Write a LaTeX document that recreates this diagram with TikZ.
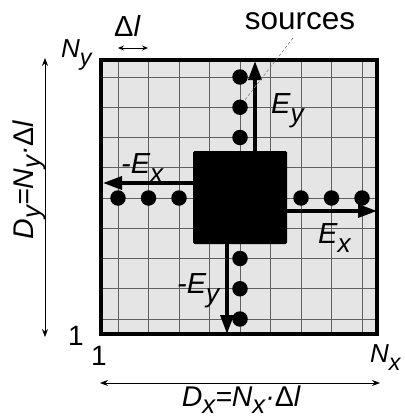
\documentclass[tikz,border=0pt]{standalone}
\usepackage{fontspec}
\setmainfont{Liberation Sans}
\usetikzlibrary{arrows.meta}
\newcommand{\sbx}[1]{\raisebox{-0.33em}{\scalebox{0.9}{#1}}}
\newcommand{\sbd}[1]{\raisebox{-0.26em}{\scalebox{0.9}{#1}}}
\definecolor{cellfill}{HTML}{E5E5E5}
\definecolor{gridcol}{HTML}{606060}
\begin{document}
\begin{tikzpicture}[x=1pt,y=-1pt,
  lab/.style={inner sep=0pt, anchor=base west, font=\fontsize{29}{29}\selectfont\itshape},
  dimlab/.style={inner sep=0pt, font=\fontsize{28.5}{28.5}\selectfont\itshape},
  fld/.style={line width=3.5pt, -{Triangle[length=19pt,width=13pt]}},
  dimarr/.style={line width=0.8pt, {Stealth[length=8pt,width=6pt]}-{Stealth[length=8pt,width=6pt]}},
  src/.style={circle, fill=black, minimum size=15.5pt, inner sep=0pt},
  gridln/.style={line width=0.9pt, gridcol},
]
\useasboundingbox (0,0) rectangle (404,420);
% domain
\fill[cellfill] (101,60) rectangle (377,334);
\foreach \i in {0,...,8} \draw[gridln] ({118+30.5*\i},60) -- ({118+30.5*\i},334);
\foreach \j in {0,...,8} \draw[gridln] (101,{77+30.25*\j}) -- (377,{77+30.25*\j});
\node (dom) [draw, line width=4pt, minimum width=276pt, minimum height=274pt, inner sep=0pt] at (239,197) {};
% block
\node (blk) [fill=black, rounded corners=1.5pt, minimum width=94pt, minimum height=93pt, inner sep=0pt] at (240,197.5) {};
% sources
\foreach \y [count=\k] in {77,107.25,137.5} \node (su\k) [src] at (240,\y) {};
\foreach \y [count=\k] in {258.5,288.75,319} \node (sd\k) [src] at (240,\y) {};
\foreach \x [count=\k] in {118,148.5,179} \node (sl\k) [src] at (\x,198) {};
\foreach \x [count=\k] in {301,331.5,362} \node (sr\k) [src] at (\x,198) {};
% field arrows
\coordinate (eyt) at (255,61);
\coordinate (meyt) at (227,334);
\coordinate (mext) at (103,183);
\coordinate (ext) at (377,211);
\draw[fld] (blk.north -| eyt) -- (eyt);
\draw[fld] (blk.south -| meyt) -- (meyt);
\draw[fld] (blk.west |- mext) -- (mext);
\draw[fld] (blk.east |- ext) -- (ext);
% field labels
\node (ley) [lab] at (271,113) {E\sbx{y}};
\node (lmex) [lab] at (121,173) {-E\sbx{x}};
\node (lex) [lab] at (318,243) {E\sbx{x}};
\node (lmey) [lab] at (177,293) {-E\sbx{y}};
% sources label
\node (srclab) [inner sep=0pt, anchor=base, font=\fontsize{31.5}{31.5}\selectfont] at (300,30) {sources};
\coordinate (srcend) at (245,100);
\draw[dashed, dash pattern=on 3pt off 2pt, line width=0.6pt, gray] (293,38) -- (srcend);
% axis labels
\node (lny) [lab, font=\fontsize{26}{26}\selectfont\itshape] at (61,57) {N\sbx{y}};
\node (ldl) [lab, font=\fontsize{29}{29}\selectfont\itshape] at (114,37) {{\upshape Δ}l};
\coordinate (dla) at (118,48);
\coordinate (dlb) at (148,48);
\draw[line width=0.8pt, {Stealth[length=6pt,width=5pt]}-{Stealth[length=6pt,width=5pt]}] (dla) -- (dlb);
\node (one1) [lab, font=\fontsize{28}{28}\selectfont] at (68,345) {1};
\node (one2) [lab, font=\fontsize{28}{28}\selectfont] at (91,365) {1};
\node (lnx) [lab, font=\fontsize{26}{26}\selectfont\itshape] at (370,362) {N\sbx{x}};
% dimension arrows
\coordinate (dxa) at (100,383);
\coordinate (dxb) at (380,383);
\draw[dimarr] (dxa) -- (dxb);
\node (ldx) [dimlab, anchor=base] at (241,406) {D\sbd{x}=N\sbd{x}·{\upshape Δ}l};
\coordinate (dya) at (45,58);
\coordinate (dyb) at (45,337);
\draw[dimarr] (dya) -- (dyb);
\node (ldy) [dimlab, anchor=base, rotate=90] at (33,180) {D\sbd{y}=N\sbd{y}·{\upshape Δ}l};
\end{tikzpicture}
\end{document}
